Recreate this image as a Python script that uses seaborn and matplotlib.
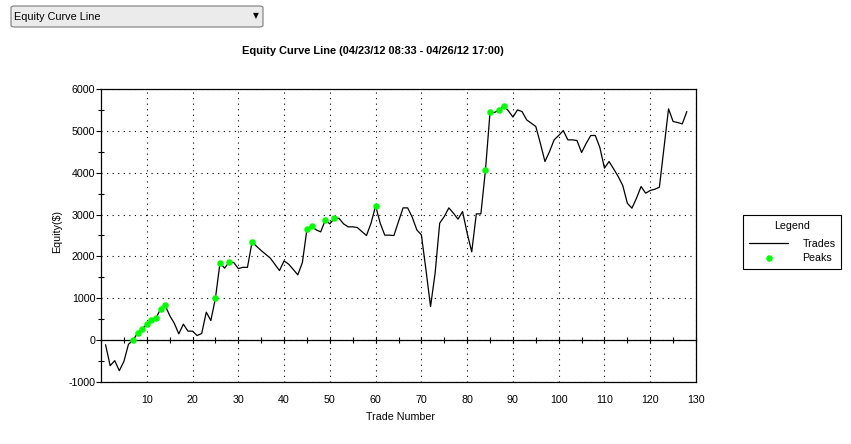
import matplotlib
matplotlib.use("Agg")
import matplotlib.pyplot as plt
import numpy as np
import pandas as pd
import seaborn as sns
from matplotlib.ticker import MultipleLocator, FixedLocator
from matplotlib.patches import FancyBboxPatch

# ---------------- data ----------------
trade_numbers = list(range(1, 129))
equity = [
    -110, -610, -490, -730, -510, -100, 0, 167, 262, 381,
    477, 525, 740, 835, 590, 405, 150, 382, 215, 215,
    110, 160, 668, 468, 1000, 1846, 1720, 1863, 1855, 1711,
    1740, 1740, 2341, 2240, 2140, 2050, 1958, 1810, 1663, 1894,
    1815, 1690, 1560, 1855, 2652, 2723, 2635, 2587, 2866, 2778,
    2914, 2910, 2778, 2707, 2707, 2690, 2595, 2499, 2795, 3208,
    2795, 2508, 2508, 2499, 2834, 3160, 3160, 2938, 2635, 2515,
    1679, 803, 1600, 2795, 2953, 3160, 3034, 2891, 3072, 2556,
    2109, 3017, 3017, 4061, 5447, 5440, 5500, 5590, 5480, 5330,
    5500, 5460, 5263, 5183, 5104, 4700, 4267, 4506, 4785, 4889,
    5008, 4785, 4785, 4769, 4482, 4700, 4889, 4889, 4600, 4108,
    4267, 4092, 3909, 3694, 3272, 3153, 3392, 3670, 3511, 3575,
    3606, 3654, 4600, 5526, 5223, 5199, 5167, 5462,
]
peak_trades = [7, 8, 9, 10, 11, 12, 13, 14, 25, 26, 28, 33, 45, 46, 49, 51,
               60, 84, 85, 87, 88]
x_ticks = [10, 20, 30, 40, 50, 60, 70, 80, 90, 100, 110, 120, 130]
y_ticks = [-1000, 0, 1000, 2000, 3000, 4000, 5000, 6000]
chart_title = "Equity Curve Line (04/23/12 08:33 - 04/26/12 17:00)"
dropdown_label = "Equity Curve Line"
x_label = "Trade Number"
y_label = "Equity($)"
legend_title = "Legend"
series_names = ["Trades", "Peaks"]

# ---------------- style ----------------
sns.set_theme(style="white")
plt.rcParams["font.family"] = ["Liberation Sans", "DejaVu Sans"]
plt.rcParams["text.color"] = "black"
plt.rcParams["axes.labelcolor"] = "black"
plt.rcParams["xtick.color"] = "black"
plt.rcParams["ytick.color"] = "black"
FS = 7.7

W, H = 851, 444
fig = plt.figure(figsize=(W / 100, H / 100), dpi=100)
fig.patch.set_facecolor("white")
ax = fig.add_axes([101 / W, 1 - 382 / H, 595 / W, 293 / H])
ax.set_facecolor("white")

df = pd.DataFrame({"Trade": trade_numbers, "Equity": equity})
peaks = df[df["Trade"].isin(peak_trades)]

sns.lineplot(data=df, x="Trade", y="Equity", color="black", lw=0.9,
             ax=ax, label=series_names[0], zorder=3)
sns.scatterplot(data=peaks, x="Trade", y="Equity", color="#00ff00",
                s=22, linewidth=0, ax=ax, label=series_names[1], zorder=4)

ax.set_xlim(0, 130)
ax.set_ylim(-1000, 6000)
ax.set_xticks(x_ticks)
ax.set_xticklabels([str(t) for t in x_ticks])
ax.set_yticks(y_ticks)
ax.set_yticklabels([str(t) for t in y_ticks])
ax.yaxis.set_minor_locator(MultipleLocator(500))

ax.grid(True, which="major", color="black", linestyle=(0, (1, 4)), lw=0.8)
ax.set_axisbelow(True)

for s in ax.spines.values():
    s.set_visible(True)
    s.set_color("black")
    s.set_linewidth(0.9)

ax.tick_params(axis="x", which="both", length=0, pad=9.5, labelsize=FS)
ax.tick_params(axis="y", which="major", direction="out", length=3.5,
               width=0.8, pad=0.5, labelsize=FS, left=True)
ax.tick_params(axis="y", which="minor", direction="inout", length=4,
               width=0.8, left=True)
ax.set_xlabel("")
ax.set_ylabel("")

# zero line with its own tick marks
zero_frac = (0 - (-1000)) / (6000 - (-1000))
sec = ax.secondary_xaxis(zero_frac)
sec.xaxis.set_major_locator(MultipleLocator(10))
sec.xaxis.set_minor_locator(MultipleLocator(5))
sec.tick_params(axis="x", which="both", direction="inout", length=4,
                width=0.8, labelbottom=False, labeltop=False,
                bottom=True, top=False)
for s in sec.spines.values():
    s.set_color("black")
    s.set_linewidth(0.9)

# labels / title
fig.text(373 / W, 1 - 51 / H, chart_title, ha="center", va="center",
         fontsize=7.9, fontweight="bold")
fig.text(400 / W, 1 - 417 / H, x_label, ha="center", va="center", fontsize=FS)
fig.text(57 / W, 1 - 231 / H, y_label, ha="center", va="center",
         rotation=90, fontsize=FS)

# legend
handles, labels = ax.get_legend_handles_labels()
if ax.get_legend() is not None:
    ax.get_legend().remove()
leg = fig.legend(handles, labels, loc="upper left",
                 bbox_to_anchor=(743 / W, 1 - 215 / H),
                 bbox_transform=fig.transFigure,
                 title=legend_title, fontsize=FS, title_fontsize=FS,
                 frameon=True, fancybox=False, shadow=False,
                 edgecolor="black", facecolor="white", framealpha=1,
                 handlelength=3.7, handletextpad=1.3, borderpad=0.55,
                 labelspacing=0.33, borderaxespad=0)
leg.get_frame().set_linewidth(0.8)
try:
    leg._legend_box.sep = 6.0
except Exception:
    pass

# dropdown control
dd = FancyBboxPatch((11 / W, 1 - 27 / H), 252 / W, 21 / H,
                    boxstyle="round,pad=0,rounding_size=0.004",
                    transform=fig.transFigure, facecolor="#ebebeb",
                    edgecolor="#7a7a7a", lw=0.8)
fig.patches.append(dd)
fig.text(14 / W, 1 - 16.5 / H, dropdown_label, ha="left", va="center",
         fontsize=7.8)
fig.text(256 / W, 1 - 16 / H, "\u25bc", ha="center", va="center",
         fontsize=5.5, family=["DejaVu Sans"])

fig.savefig("out.png", dpi=100, facecolor="white")
